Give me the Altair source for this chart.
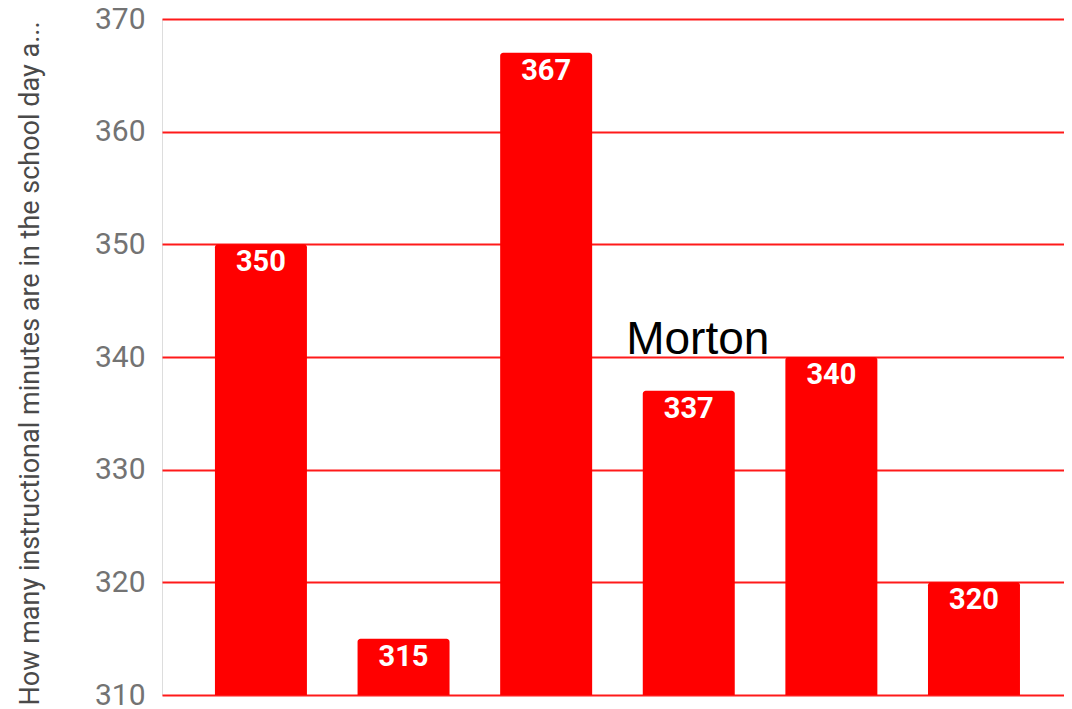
import altair as alt
import pandas as pd

categories = ["School 1", "School 2", "School 3", "School 4", "School 5", "School 6"]
values = [350, 315, 367, 337, 340, 320]
baseline_value = 310
annotation_category = ["School 4"]
annotation_value = [340]
annotation_text = ["Morton"]

df = pd.DataFrame({"school": categories, "minutes": values, "base": [baseline_value] * len(values)})
ann = pd.DataFrame({"school": annotation_category, "minutes": annotation_value, "label": annotation_text})

y_title = "How many instructional minutes are in the school day a..."

x_enc = alt.X("school:N", sort=categories, axis=None,
              scale=alt.Scale(paddingInner=0.355, paddingOuter=0.34, align=0.546))
y_scale = alt.Scale(domain=[310, 370], nice=False, zero=False)
y_axis = alt.Axis(values=[310, 320, 330, 340, 350, 360, 370], grid=True,
                  gridColor="#ff1a1a", gridWidth=2, domain=False, ticks=False,
                  labelFont="Roboto", labelFontSize=30, labelColor="#737373",
                  labelPadding=17,
                  titleFont="Roboto", titleFontSize=27, titleFontWeight="normal",
                  titleColor="#4a4a4a", titleX=-118, titleY=344)

bars = alt.Chart(df).mark_bar(
    color="#ff0000", cornerRadiusTopLeft=3, cornerRadiusTopRight=3
).encode(
    x=x_enc,
    y=alt.Y("minutes:Q", scale=y_scale, title=y_title, axis=y_axis, stack=None),
    y2=alt.Y2("base:Q"),
)

labels = alt.Chart(df).mark_text(
    color="white", font="Roboto", fontSize=29, fontWeight="bold",
    baseline="top", dy=4
).encode(
    x=alt.X("school:N", sort=categories, axis=None),
    y=alt.Y("minutes:Q", scale=y_scale, title=y_title, axis=y_axis),
    text=alt.Text("minutes:Q"),
)

note = alt.Chart(ann).mark_text(
    color="black", font="Liberation Sans", fontSize=46, align="center",
    baseline="alphabetic", dx=9, dy=-3
).encode(
    x=alt.X("school:N", sort=categories, axis=None),
    y=alt.Y("minutes:Q", scale=y_scale, title=y_title, axis=y_axis),
    text="label:N",
)

chart = alt.layer(bars, labels, note).properties(
    width=902, height=676,
    autosize=alt.AutoSizeParams(type="none"),
    padding={"left": 154, "top": 11, "right": 0, "bottom": 12},
).configure_view(stroke=None).configure_axis(domain=False, ticks=False).configure(background="white")

chart.save("out.html", embed_options={"renderer": "svg", "actions": False})
